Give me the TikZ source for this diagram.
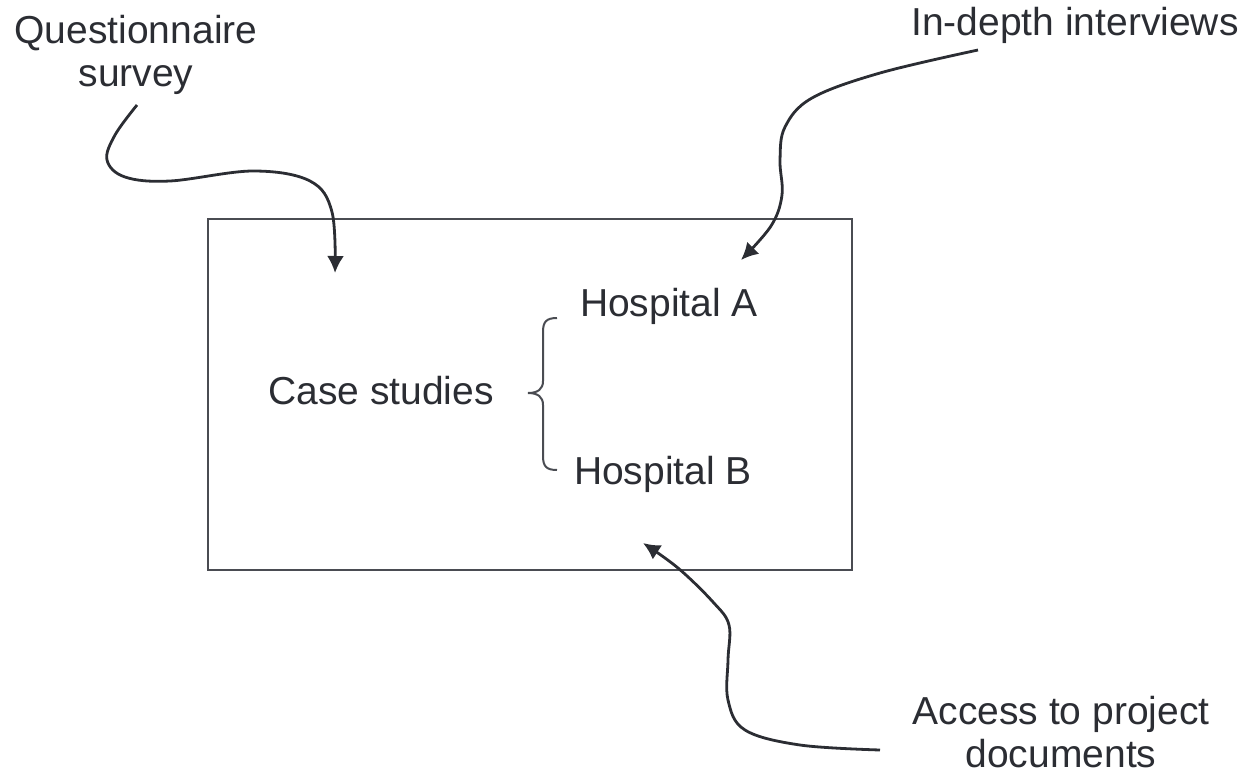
\documentclass[tikz,border=0pt]{standalone}
\usepackage{fontspec}
\setmainfont{Liberation Sans}
\usetikzlibrary{arrows.meta}
\definecolor{ink}{HTML}{2B2D33}
\definecolor{boxc}{HTML}{4A4C52}
\tikzset{
  lbl/.style={font=\fontsize{39}{43}\selectfont, text=ink, inner sep=0pt, align=center},
  conn/.style={draw=ink, line width=2.8pt, -{Latex[length=17pt,width=17pt]}},
}
\begin{document}
\begin{tikzpicture}[x=1pt,y=-1pt]
\useasboundingbox (0,0) rectangle (1245,774);
\node[draw=boxc, line width=2pt, minimum width=644pt, minimum height=351pt, inner sep=0pt, anchor=north west] (box) at (207,218) {};
\node[lbl] (qs) at (136,55) {Questionnaire\\survey};
\node[lbl] (idi) at (1075,25) {In-depth interviews};
\node[lbl] (apd) at (1061,732) {Access to project\\documents};
\node[lbl] (cs) at (381,391) {Case studies};
\node[lbl] (ha) at (669,306) {Hospital A};
\node[lbl] (hb) at (663,474) {Hospital B};
\coordinate (q0) at (137,105);
\coordinate (q1) at (335,273);
\coordinate (i0) at (978,50);
\coordinate (i1) at (741,260);
\coordinate (a0) at (880,750);
\coordinate (a1) at (643,543);
\draw[conn] plot[smooth, tension=0.6] coordinates {(q0) (115,135) (107,160) (125,177) (170,181) (253,171) (310,181) (332,212) (q1)};
\draw[conn] plot[smooth, tension=0.6] coordinates {(i0) (880,73) (812,98) (785,127) (780,160) (782,195) (771,226) (i1)};
\draw[conn] plot[smooth, tension=0.6] coordinates {(a0) (800,745) (745,730) (728,700) (728,660) (729,625) (713,602) (678,568) (a1)};
\draw[draw=boxc, line width=2pt] (557,318) .. controls (546,318) and (543,322) .. (543,332)
  -- (543,381) .. controls (543,389) and (538,393) .. (528,393)
  .. controls (538,393) and (543,397) .. (543,405)
  -- (543,456) .. controls (543,466) and (546,470) .. (557,470);
\end{tikzpicture}
\end{document}
